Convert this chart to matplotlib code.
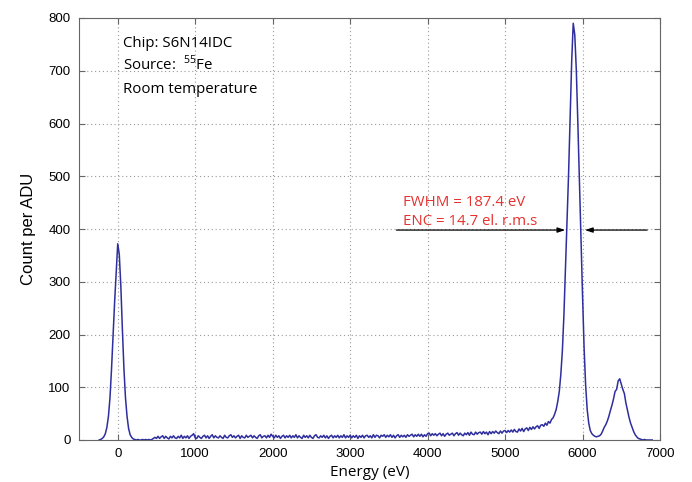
import numpy as np
import matplotlib
matplotlib.use("Agg")
import matplotlib.pyplot as plt

# spectrum: counts per ADU on a 20 eV grid starting at -240 eV
e_start = -240
e_step = 20
counts = [
    0, 1, 3, 6, 12, 24, 45, 80, 135, 200,
    262, 318, 372, 352, 292, 210, 135, 80, 45, 22,
    10, 5, 2, 1, 0, 1, 0, 0, 1, 0,
    1, 0, 1, 0, 1, 3, 5, 3, 7, 3,
    6, 8, 3, 7, 4, 2, 7, 4, 8, 4,
    3, 7, 4, 9, 3, 7, 4, 8, 3, 7,
    9, 12, 4, 3, 8, 5, 3, 7, 9, 4,
    8, 3, 7, 10, 4, 8, 5, 4, 8, 5,
    3, 9, 5, 4, 8, 10, 5, 8, 4, 7,
    9, 3, 8, 5, 4, 9, 5, 7, 9, 4,
    8, 5, 3, 8, 10, 4, 7, 8, 4, 9,
    5, 11, 7, 4, 9, 5, 8, 3, 7, 9,
    4, 8, 5, 9, 4, 8, 5, 10, 4, 8,
    5, 3, 9, 5, 8, 4, 9, 5, 3, 8,
    10, 5, 4, 8, 5, 9, 4, 8, 3, 7,
    9, 4, 8, 5, 9, 4, 8, 5, 10, 4,
    8, 5, 9, 4, 8, 5, 9, 3, 8, 5,
    9, 4, 8, 9, 5, 8, 4, 10, 5, 9,
    8, 4, 9, 7, 10, 5, 9, 6, 10, 5,
    9, 4, 8, 10, 5, 9, 6, 9, 5, 10,
    7, 9, 11, 6, 10, 7, 11, 7, 11, 6,
    10, 7, 12, 13, 8, 12, 9, 12, 8, 11,
    13, 8, 12, 7, 11, 13, 9, 11, 13, 8,
    12, 14, 9, 13, 10, 8, 13, 10, 14, 9,
    15, 11, 10, 15, 11, 14, 15, 11, 16, 12,
    15, 10, 16, 12, 16, 13, 17, 14, 12, 17,
    13, 17, 18, 14, 18, 15, 19, 15, 20, 16,
    15, 21, 17, 22, 16, 21, 23, 18, 24, 20,
    25, 21, 25, 27, 22, 28, 29, 26, 32, 28,
    35, 32, 39, 42, 49, 58, 73, 92, 125, 170,
    238, 325, 410, 505, 612, 718, 790, 768, 700, 598,
    488, 385, 275, 175, 104, 58, 32, 18, 12, 9,
    7, 6, 7, 8, 11, 17, 24, 29, 36, 45,
    56, 66, 78, 92, 96, 112, 116, 106, 96, 88,
    70, 56, 43, 32, 24, 16, 10, 6, 3, 2,
    1, 0, 1, 0, 0, 0, 0, 0,
]
energy = e_start + e_step * np.arange(len(counts))

info_lines = ["Chip: S6N14IDC", "Source:  $^{55}$Fe", "Room temperature"]
fwhm_text = "FWHM = 187.4 eV"
enc_text = "ENC = 14.7 el. r.m.s"
half_max = 398
left_edge = 5777
right_edge = 6031
arrow_from_left = 3598
arrow_from_right = 6834

plt.rcParams['mathtext.fontset'] = 'custom'
plt.rcParams['mathtext.rm'] = 'Open Sans'

fig = plt.figure(figsize=(6.92, 4.82), dpi=100)
ax = fig.add_axes([79 / 692, 42 / 482, 581 / 692, 422 / 482])

ax.plot(energy, counts, color="#2e2e9e", lw=1.1)

ax.set_xlim(-500, 7000)
ax.set_ylim(0, 800)
ax.set_xticks(range(0, 7001, 1000))
ax.set_yticks(range(0, 801, 100))
ax.grid(True, ls=(0, (1, 2.5)), color="#999999", lw=0.8)
for s in ax.spines.values():
    s.set_color("#666666")
    s.set_linewidth(0.8)
ax.tick_params(direction="in", length=4, color="#666666", top=True, right=True,
               labelsize=9.5, pad=6)
for lab in ax.get_xticklabels() + ax.get_yticklabels():
    lab.set_family("Liberation Sans")

ax.set_xlabel("Energy (eV)", family="Open Sans", fontsize=11, labelpad=3)
ax.set_ylabel("Count per ADU", family="Liberation Sans", fontsize=12, labelpad=9)

for i, line in enumerate(info_lines):
    ax.text(0.0757, 0.931 - i * 0.0545, line, transform=ax.transAxes,
            family="Open Sans", fontsize=10.8, va="baseline")

red = "#e8302e"
ax.text(3688, 443, fwhm_text, color=red, family="Open Sans", fontsize=10.8, va="baseline")
ax.text(3688, 407, enc_text, color=red, family="Open Sans", fontsize=10.8, va="baseline")

arrow_kw = dict(arrowstyle="-|>,head_length=0.45,head_width=0.15", color="black", lw=0.9,
                shrinkA=0, shrinkB=0)
ax.annotate("", xy=(left_edge, half_max), xytext=(arrow_from_left, half_max),
            arrowprops=arrow_kw)
ax.annotate("", xy=(right_edge, half_max), xytext=(arrow_from_right, half_max),
            arrowprops=arrow_kw)

fig.savefig("out.png", dpi=100)
